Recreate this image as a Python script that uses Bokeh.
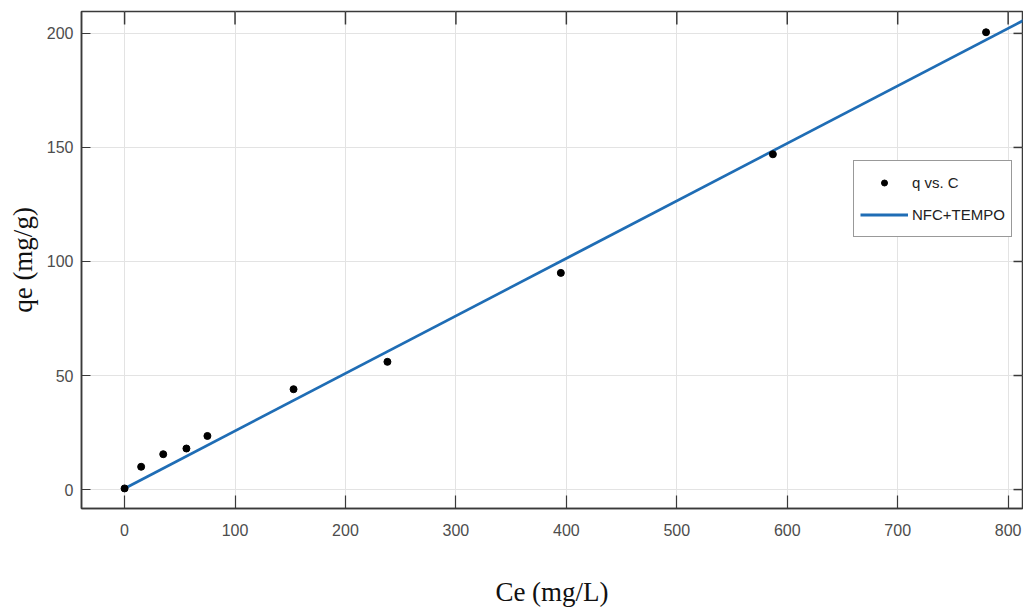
import math
from bokeh.plotting import figure
from bokeh.models import Range1d, FixedTicker, Legend, LegendItem
from bokeh.embed import file_html
from bokeh.resources import INLINE

# data
ce = [0, 15, 35, 56, 75, 153, 238, 395, 587, 780]
qe = [0.5, 10, 15.5, 18, 23.5, 44, 56, 95, 147, 200.5]
fit_x = [0, 815]
fit_y = [0.5, 206]
x_ticks = [0, 100, 200, 300, 400, 500, 600, 700, 800]
y_ticks = [0, 50, 100, 150, 200]

X0, X1 = -39, 813
Y0, Y1 = -8.3, 209.6
FRAME_W, FRAME_H = 941, 497

TICK_FONT = "Liberation Sans Narrow, Liberation Sans"
TICK_COLOR = "#4d4d4d"
AXIS_COLOR = "#3a3a3a"

p = figure(width=1023, height=609, output_backend="svg", toolbar_location=None,
           x_range=Range1d(X0, X1), y_range=Range1d(Y0, Y1),
           min_border_left=81, min_border_right=1, min_border_top=11, min_border_bottom=101,
           background_fill_color="white", border_fill_color="white")
p.outline_line_color = AXIS_COLOR
p.outline_line_width = 1.5

for ax, ticks, tin in ((p.xaxis[0], x_ticks, 13), (p.yaxis[0], y_ticks, 9)):
    ax.ticker = FixedTicker(ticks=ticks)
    ax.major_tick_in = tin
    ax.major_tick_out = 0
    ax.minor_tick_in = 0
    ax.minor_tick_out = 0
    ax.axis_line_color = AXIS_COLOR
    ax.axis_line_width = 1.5
    ax.major_tick_line_color = AXIS_COLOR
    ax.major_tick_line_width = 1.2
    ax.major_label_text_font = TICK_FONT
    ax.major_label_text_font_size = "16px"
    ax.major_label_text_color = TICK_COLOR
    ax.axis_label_text_font = "Liberation Serif"
    ax.axis_label_text_font_size = "27px"
    ax.axis_label_text_font_style = "normal"
    ax.axis_label_text_color = "#111111"
p.xaxis.major_label_standoff = 15
p.yaxis.major_label_standoff = 8
p.xaxis.axis_label = "Ce (mg/L)"
p.yaxis.axis_label = "qe (mg/g)"
p.xaxis.axis_label_standoff = 38
p.yaxis.axis_label_standoff = 6

p.xgrid.ticker = FixedTicker(ticks=x_ticks)
p.ygrid.ticker = FixedTicker(ticks=y_ticks)
p.grid.grid_line_color = "#e3e3e3"
p.grid.grid_line_width = 1

# mirrored ticks on the top and right edges of the frame
xt_len = 13 * (Y1 - Y0) / FRAME_H
yt_len = 9 * (X1 - X0) / FRAME_W
top_y0 = [Y1 for _ in x_ticks]
top_y1 = [Y1 - xt_len for _ in x_ticks]
right_x0 = [X1 for _ in y_ticks]
right_x1 = [X1 - yt_len for _ in y_ticks]
p.segment(x0=x_ticks, y0=top_y0, x1=x_ticks, y1=top_y1,
          line_color="#3a3a3a", line_width=1.5, level="overlay")
p.segment(x0=right_x0, y0=y_ticks, x1=right_x1, y1=y_ticks,
          line_color="#3a3a3a", line_width=1.5, level="overlay")

fit = p.line(fit_x, fit_y, line_color="#1f6db5", line_width=2.8)
pts = p.scatter(ce, qe, size=7, fill_color="black", line_color="black", marker="circle")

legend = Legend(items=[LegendItem(label="q vs. C", renderers=[pts]),
                       LegendItem(label="NFC+TEMPO", renderers=[fit])],
                location=(772, 271), orientation="vertical",
                border_line_color="#333333", border_line_width=1.5,
                background_fill_color="white", background_fill_alpha=1,
                padding=6, margin=0, spacing=1,
                glyph_width=48, glyph_height=15, label_height=31,
                label_standoff=4,
                label_text_font=TICK_FONT, label_text_font_size="15px",
                label_text_color="#222222")
p.add_layout(legend, "center")

open("out.html", "w").write(file_html(p, INLINE))
